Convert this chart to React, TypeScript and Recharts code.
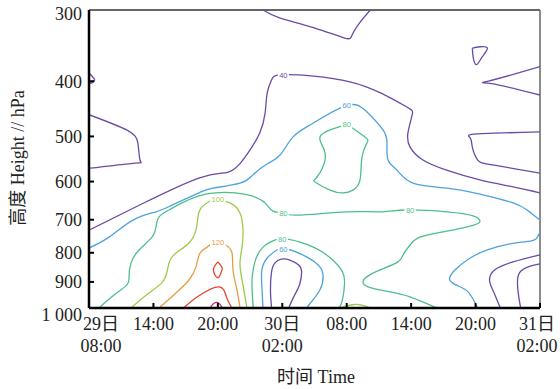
import { LineChart, Line, XAxis, YAxis, ReferenceLine, ReferenceDot } from 'recharts';

// time axis in hours from 29日 08:00, height axis in hPa (log)
const xTicks = [0, 6, 12, 18, 24, 30, 36, 42];
const xTickLabels = [['29日', '08:00'], ['14:00'], ['20:00'], ['30日', '02:00'], ['08:00'], ['14:00'], ['20:00'], ['31日', '02:00']];
const xTickShift = [12, 0, 0, 0, 0, 0, 0, -3];
const yTicks = [300, 400, 500, 600, 700, 800, 900, 1000];

// contour lines, [hour, hPa]
const c40Nub = [[0, 387], [0.5, 397], [0.35, 402], [0, 404]];
const c40Left = [[0, 458], [3.5, 487], [4.55, 513], [4.75, 550], [4.3, 557], [1.0, 566], [0, 568]];
const c40Top = [[16.2, 300], [17.8, 310], [20.9, 322], [23.8, 336], [24.5, 332], [25.2, 316], [26.2, 300]];
const c40Main = [[0, 730], [4.9, 657], [10.3, 591], [12.9, 578], [14.1, 557], [15.0, 528], [15.9, 493], [16.4, 455], [16.6, 419], [17.0, 398], [17.8, 390], [20.9, 392], [24.3, 401], [27.1, 419], [29.6, 444], [30.1, 458], [29.7, 493], [29.9, 522], [31.1, 550], [33.3, 573], [36.4, 596], [39.5, 613], [42, 628]];
const c40Loop = [[35.7, 350], [36.4, 348], [37.1, 350], [36.6, 363], [36.1, 374], [35.8, 365], [35.7, 350]];
const c40Wedge1 = [[42, 377], [37.2, 400], [37.5, 404], [42, 423]];
const c40Wedge2 = [[42, 491], [36.1, 495], [35.5, 503], [35.7, 522], [36.2, 550], [37.6, 561], [42, 580]];
const c40Low = [[17.0, 1000], [16.9, 930], [17.0, 864], [17.3, 834], [17.9, 821], [18.7, 824], [19.5, 840], [19.8, 864], [19.6, 911], [19.1, 953], [18.6, 1000]];
const c40RightA = [[42, 807], [39.5, 830], [37.8, 857], [37.3, 893], [37.6, 930], [38.0, 968], [38.3, 1000]];
const c40RightB = [[42, 837], [40.9, 847], [40.1, 867], [39.9, 904], [40.0, 949], [40.2, 1000]];

const c60Main = [[0, 785], [1.86, 751], [4.1, 701], [6.24, 678], [7.73, 660], [10.24, 628], [11.55, 616], [14.06, 604], [15.27, 584], [16.58, 559], [17.79, 539], [19.0, 501], [20.86, 474], [24.03, 441], [25.89, 453], [27.38, 487], [27.75, 513], [27.85, 550], [28.68, 573], [30.17, 604], [33.34, 616], [36.41, 631], [39.49, 654], [40.79, 673], [42, 701]];
const c60Low = [[16.2, 1000], [16.1, 918], [16.1, 857], [16.6, 817], [17.5, 791], [18.5, 788], [20.3, 814], [21.5, 847], [21.8, 881], [21.5, 930], [20.6, 981], [20.3, 1000]];
const c60Right = [[42, 736], [41.7, 754], [41.1, 763], [39.2, 772], [37.1, 791], [35.5, 817], [34.1, 857], [33.6, 893], [34.4, 915], [35.3, 937], [35.9, 975], [36.2, 1000]];

const c80Loop = [[24.03, 476], [25.7, 501], [25.89, 513], [25.42, 544], [25.24, 596], [24.59, 621], [23.65, 628], [22.44, 621], [21.05, 601], [21.23, 589], [21.98, 550], [21.79, 522], [21.51, 501], [22.44, 487], [24.03, 476]];
const c80Long = [[0.93, 1000], [2.33, 949], [3.54, 911], [3.73, 881], [3.91, 834], [4.66, 791], [5.87, 751], [6.24, 721], [6.52, 692], [7.45, 673], [8.66, 654], [10.24, 636], [11.73, 628], [13.6, 628], [15.18, 636], [16.39, 654], [17.13, 676], [18.07, 681], [19.37, 687], [24.03, 678], [27.1, 678], [29.61, 673], [33.34, 678], [35.76, 689], [36.41, 704], [35.76, 716], [33.34, 733], [30.82, 751], [29.89, 776], [29.34, 801], [28.78, 830], [27.1, 857], [25.89, 881], [25.52, 899], [25.98, 918], [28.03, 937], [29.89, 956], [32.41, 1000]];
const c80Low = [[15.3, 1000], [15.2, 941], [15.2, 881], [15.5, 824], [16.2, 782], [17.3, 760], [18.5, 757], [20.9, 782], [22.7, 824], [23.6, 864], [23.8, 904], [23.6, 968], [23.3, 1000]];

const c100Main = [[3.91, 1000], [5.59, 941], [6.98, 893], [7.45, 834], [8.1, 801], [9.31, 769], [9.96, 730], [10.15, 692], [10.43, 668], [11.27, 649], [12.01, 646], [13.13, 654], [14.06, 681], [14.34, 730], [14.25, 782], [14.06, 834], [14.25, 893], [14.53, 956], [14.71, 1000]];
const c100Arc = [[23.4, 1000], [24.5, 987], [25.4, 988], [26.2, 1000]];
const c120 = [[6.52, 1000], [8.1, 941], [9.31, 893], [9.96, 847], [10.34, 801], [11.0, 782], [11.45, 769], [12.01, 766], [12.76, 776], [13.32, 801], [13.41, 857], [13.78, 930], [14.06, 1000]];
const c140 = [[8.8, 1000], [10.2, 953], [12.1, 918], [12.8, 956], [13.3, 1000]];
const c140Loop = [[12.0, 830], [12.4, 850], [12.3, 866], [12.0, 885], [11.6, 863], [11.7, 844], [12.0, 830]];
const c160 = [[11.27, 1000], [11.64, 981], [12.11, 981], [12.39, 1000]];

const PURPLE = '#6b4aa6';
const BLUE = '#4ea3dc';
const TEAL = '#4dbf8b';
const YGREEN = '#9dca48';
const ORANGE = '#e5a040';
const RED = '#e8452f';
const MAGENTA = '#b0307e';

const contours = [
  { data: c40Nub, color: PURPLE }, { data: c40Left, color: PURPLE }, { data: c40Top, color: PURPLE },
  { data: c40Main, color: PURPLE }, { data: c40Loop, color: PURPLE }, { data: c40Wedge1, color: PURPLE },
  { data: c40Wedge2, color: PURPLE }, { data: c40Low, color: PURPLE }, { data: c40RightA, color: PURPLE },
  { data: c40RightB, color: PURPLE },
  { data: c60Main, color: BLUE }, { data: c60Low, color: BLUE }, { data: c60Right, color: BLUE },
  { data: c80Loop, color: TEAL }, { data: c80Long, color: TEAL }, { data: c80Low, color: TEAL },
  { data: c100Main, color: YGREEN }, { data: c100Arc, color: YGREEN },
  { data: c120, color: ORANGE },
  { data: c140, color: RED }, { data: c140Loop, color: RED },
  { data: c160, color: MAGENTA },
];

const contourLabels = [
  { x: 18.1, y: 390, text: '40', color: PURPLE },
  { x: 24.0, y: 441, text: '60', color: BLUE },
  { x: 24.0, y: 476, text: '80', color: TEAL },
  { x: 12.0, y: 646, text: '100', color: YGREEN },
  { x: 12.0, y: 767, text: '120', color: ORANGE },
  { x: 18.1, y: 681, text: '80', color: TEAL },
  { x: 29.9, y: 673, text: '80', color: TEAL },
  { x: 18.0, y: 757, text: '80', color: TEAL },
  { x: 18.1, y: 788, text: '60', color: BLUE },
];

const FONT = "'Liberation Serif', 'Noto Sans CJK SC', serif";

const toPts = (arr: number[][]) => arr.map(([x, y]) => ({ x, y }));

const YTick = (props: any) => {
  const { x, y, payload } = props;
  const v = payload.value;
  const dy = v === 300 ? 4 : v === 1000 ? 7 : 0;
  return (
    <g>
      {v !== 300 && v !== 1000 && <line x1={x + 7} x2={x + 12} y1={y} y2={y} stroke="#000" strokeWidth={2} />}
      <text x={x} y={y + dy} dy="0.35em" textAnchor="end" fontSize={18} fill="#222" fontFamily={FONT}>
        {v === 1000 ? '1 000' : v}
      </text>
    </g>
  );
};

const XTick = (props: any) => {
  const { x, y, payload, index } = props;
  const lines = xTickLabels[index] || [];
  const tx = x + xTickShift[index];
  return (
    <g>
      {index > 0 && index < 7 && <line x1={x} x2={x} y1={y} y2={y - 5} stroke="#000" strokeWidth={2} />}
      {index === 7 && <line x1={x} x2={x} y1={y} y2={y - 5} stroke="#000" strokeWidth={2} />}
      {lines.map((t, i) => (
        <text key={i} x={tx} y={y + 22 + i * 22} textAnchor="middle" fontSize={18} fill="#222" fontFamily={FONT}>
          {t}
        </text>
      ))}
    </g>
  );
};

const ContourLabel = (props: any) => {
  const { cx, cy, text, color } = props;
  const w = text.length * 4.6 + 2;
  return (
    <g>
      <rect x={cx - w / 2} y={cy - 4} width={w} height={8} fill="#fff" />
      <text x={cx} y={cy} dy="0.35em" textAnchor="middle" fontSize={7.5} fill={color} fontFamily="'Liberation Sans', sans-serif">
        {text}
      </text>
    </g>
  );
};

export default function App() {
  return (
    <div style={{ position: 'absolute', left: 0, top: 0, width: 560, height: 389, background: '#fff' }}>
      <LineChart width={560} height={389} margin={{ top: 10, right: 20, bottom: 31, left: 29 }}>
        <XAxis
          type="number"
          dataKey="x"
          domain={[0, 42]}
          ticks={xTicks}
          allowDataOverflow
          tickSize={0}
          tickMargin={0}
          tickLine={false}
          axisLine={{ stroke: '#000', strokeWidth: 2.5 }}
          tick={<XTick />}
          height={50}
          interval={0}
        />
        <YAxis
          type="number"
          scale="log"
          domain={[300, 1000]}
          ticks={yTicks}
          reversed
          allowDataOverflow
          tickSize={0}
          tickMargin={7}
          tickLine={false}
          axisLine={{ stroke: '#000', strokeWidth: 2.5 }}
          tick={<YTick />}
          width={60}
          interval={0}
        />
        <ReferenceLine y={300} stroke="#333" strokeWidth={1.5} />
        <ReferenceLine x={42} stroke="#666" strokeWidth={1.5} />
        {contours.map((c, i) => (
          <Line
            key={i}
            data={toPts(c.data)}
            dataKey="y"
            type="natural"
            stroke={c.color}
            strokeWidth={1.3}
            dot={false}
            activeDot={false}
            isAnimationActive={false}
          />
        ))}
        {contourLabels.map((l, i) => (
          <ReferenceDot
            key={`l${i}`}
            x={l.x}
            y={l.y}
            r={0}
            ifOverflow="visible"
            shape={(p: any) => <ContourLabel {...p} text={l.text} color={l.color} />}
          />
        ))}
      </LineChart>
      <svg width={560} height={389} style={{ position: 'absolute', left: 0, top: 0, pointerEvents: 'none' }}>
        <text x={316} y={383} textAnchor="middle" fontSize={18} fill="#222" fontFamily={FONT}>时间 Time</text>
        <text
          x={24}
          y={158}
          transform="rotate(-90 24 158)"
          textAnchor="middle"
          fontSize={18}
          fill="#222"
          fontFamily={FONT}
        >
          高度 Height // hPa
        </text>
      </svg>
    </div>
  );
}
